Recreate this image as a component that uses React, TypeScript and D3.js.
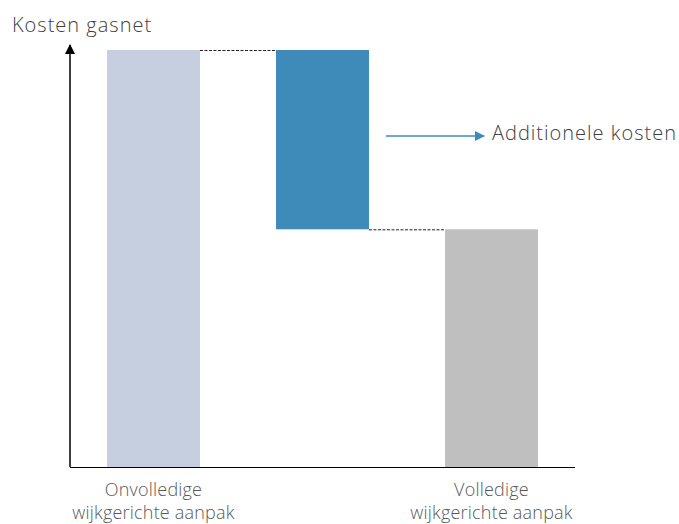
import React from "react";
import * as d3 from "d3";

const categories = ["Onvolledige\nwijkgerichte aanpak", "", "Volledige\nwijkgerichte aanpak"];
const startValue = 100;
const deltaValue = -43;
const endValue = startValue + deltaValue;
const yAxisTitle = "Kosten gasnet";
const deltaLabel = "Additionele kosten";

const W = 679;
const H = 524;

export default function App() {
  const x = d3.scaleBand<string>().domain(["a", "b", "c"]).range([70, 575]).paddingInner(0.45).paddingOuter(0.219);
  const y = d3.scaleLinear().domain([0, 100]).range([467, 50]);
  const keys = ["a", "b", "c"];
  const bars = [
    { k: "a", y0: 0, y1: startValue, fill: "#C5CFE0" },
    { k: "b", y0: endValue, y1: startValue, fill: "#3E8BBA" },
    { k: "c", y0: 0, y1: endValue, fill: "#BFBFBF" },
  ];
  const bw = x.bandwidth();
  const font = "'Open Sans', 'Segoe UI', sans-serif";
  return (
    <div style={{ position: "absolute", left: 0, top: 0 }}>
      <svg width={W} height={H} style={{ display: "block", background: "#fff" }}>
        <defs>
          <marker id="ah" viewBox="0 0 10 10" refX="9" refY="5" markerWidth="7" markerHeight="7" orient="auto">
            <path d="M0,0 L10,5 L0,10 z" fill="#000" />
          </marker>
          <marker id="ahb" viewBox="0 0 10 10" refX="9" refY="5" markerWidth="8" markerHeight="8" orient="auto">
            <path d="M0,0 L10,5 L0,10 z" fill="#3E8BBA" />
          </marker>
        </defs>
        <text x={12} y={32} fontFamily={font} fontSize={20} letterSpacing={1} fontWeight={300} fill="#404040">{yAxisTitle}</text>
        {bars.map((b) => (
          <rect key={b.k} x={x(b.k)} y={y(b.y1)} width={bw} height={y(b.y0) - y(b.y1)} fill={b.fill} />
        ))}
        <line x1={(x("a") as number) + bw} x2={x("b")} y1={y(startValue) + 0.5} y2={y(startValue) + 0.5} stroke="#222" strokeWidth={1} strokeDasharray="3,1.5" />
        <line x1={(x("b") as number) + bw} x2={x("c")} y1={y(endValue) + 0.5} y2={y(endValue) + 0.5} stroke="#222" strokeWidth={1} strokeDasharray="3,1.5" />
        <line x1={70} x2={70} y1={467} y2={45} stroke="#000" strokeWidth={1.5} markerEnd="url(#ah)" />
        <line x1={70} x2={575} y1={467.5} y2={467.5} stroke="#000" strokeWidth={1.2} />
        <line x1={386} x2={484} y1={136} y2={136} stroke="#3E8BBA" strokeWidth={1.3} markerEnd="url(#ahb)" />
        <text x={492} y={140} fontFamily={font} fontSize={20} letterSpacing={1} fontWeight={300} fill="#404040">{deltaLabel}</text>
        {keys.map((k, i) => {
          const lines = categories[i].split("\n").filter((s) => s);
          return (
            <text key={k} textAnchor="middle" fontFamily={font} fontSize={18} letterSpacing={0.2} fontWeight={300} fill="#595959">
              {lines.map((l, j) => (
                <tspan key={j} x={(x(k) as number) + bw / 2} y={496 + j * 23}>{l}</tspan>
              ))}
            </text>
          );
        })}
      </svg>
    </div>
  );
}
